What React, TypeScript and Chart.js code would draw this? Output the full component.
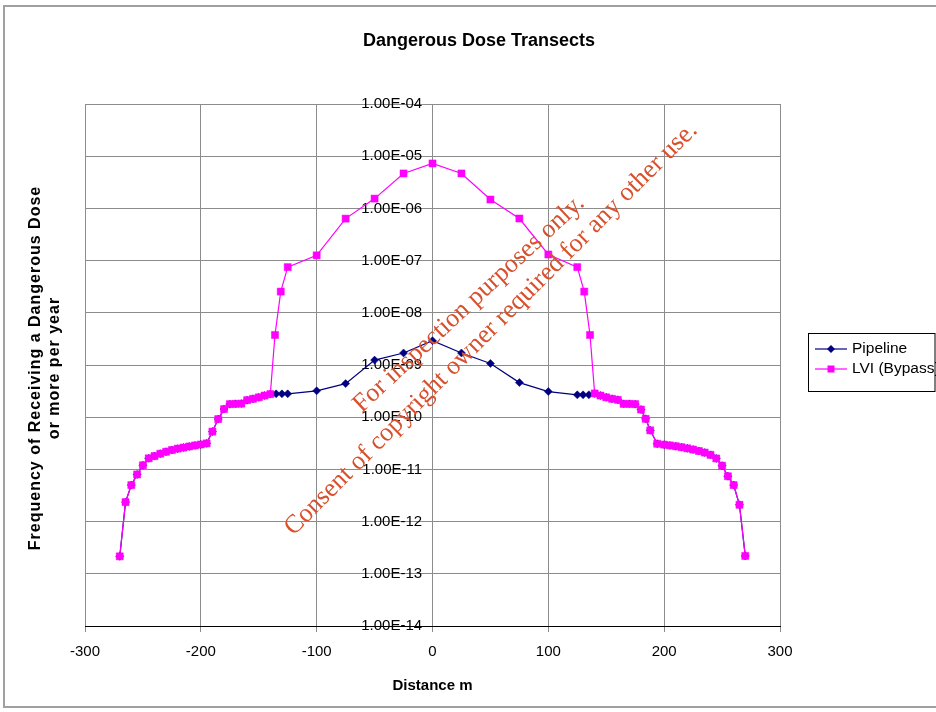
import React, { useEffect, useRef } from "react";
import { Chart, registerables } from "chart.js";

Chart.register(...registerables);

const FONT = "'Liberation Sans', Arial, sans-serif";
const SERIF = "'Liberation Serif', 'Times New Roman', serif";

const chartTitle = "Dangerous Dose Transects";
const xAxisTitle = "Distance m";
const yAxisTitleLines = ["Frequency of Receiving a Dangerous Dose", "or more per year"];
const watermarkLines = [
  "For inspection purposes only.",
  "Consent of copyright owner required for any other use.",
];

const xTickValues = [-300, -200, -100, 0, 100, 200, 300];
const yTickValues = [1e-14, 1e-13, 1e-12, 1e-11, 1e-10, 1e-9, 1e-8, 1e-7, 1e-6, 1e-5, 1e-4];
const yTickLabels = [
  "1.00E-14", "1.00E-13", "1.00E-12", "1.00E-11", "1.00E-10", "1.00E-09",
  "1.00E-08", "1.00E-07", "1.00E-06", "1.00E-05", "1.00E-04",
];

const pipelineLabel = "Pipeline";
const pipelineDistance = [
  -270, -265, -260, -255, -250, -245, -240, -235, -230, -225, -220, -215, -210, -205,
  -200, -195, -190, -185, -180, -175, -170, -165, -160, -155, -150, -145, -140,
  -135, -130, -125, -100, -75, -50, -25, 0, 25, 50, 75, 100, 125, 130, 135,
  140, 145, 150, 155, 160, 165, 170, 175, 180, 184, 188, 194, 200, 205, 210, 215,
  220, 225, 230, 235, 240, 245, 250, 255, 260, 265, 270,
];
const pipelineFrequency = [
  2.16e-13, 2.36e-12, 5.0e-12, 8.0e-12, 1.2e-11, 1.63e-11, 1.8e-11, 2.0e-11, 2.18e-11, 2.35e-11,
  2.5e-11, 2.62e-11, 2.75e-11, 2.88e-11, 3.0e-11, 3.15e-11, 5.3e-11, 9.2e-11, 1.43e-10, 1.78e-10,
  1.8e-10, 1.82e-10, 2.12e-10, 2.25e-10, 2.4e-10, 2.6e-10, 2.77e-10,
  2.8e-10, 2.8e-10, 2.8e-10, 3.2e-10, 4.4e-10, 1.24e-9, 1.7e-9, 2.92e-9, 1.7e-9, 1.07e-9, 4.6e-10,
  3.1e-10, 2.68e-10, 2.68e-10, 2.68e-10,
  2.85e-10, 2.6e-10, 2.4e-10, 2.25e-10, 2.15e-10, 1.8e-10, 1.8e-10, 1.78e-10, 1.4e-10, 9.3e-11,
  5.6e-11, 3.1e-11, 2.98e-11, 2.88e-11, 2.78e-11, 2.66e-11, 2.53e-11, 2.4e-11, 2.25e-11, 2.1e-11,
  1.9e-11, 1.62e-11, 1.18e-11, 7.4e-12, 5.0e-12, 2.1e-12, 2.2e-13,
];

const lviLabel = "LVI (Bypass)";
const lviDistance = [
  -270, -265, -260, -255, -250, -245, -240, -235, -230, -225, -220, -215, -210, -205,
  -200, -195, -190, -185, -180, -175, -170, -165, -160, -155, -150, -145, -140,
  -136, -131, -125, -100, -75, -50, -25, 0, 25, 50, 75, 100, 125, 131, 136,
  140, 145, 150, 155, 160, 165, 170, 175, 180, 184, 188, 194, 200, 205, 210, 215,
  220, 225, 230, 235, 240, 245, 250, 255, 260, 265, 270,
];
const lviFrequency = [
  2.16e-13, 2.36e-12, 5.0e-12, 8.0e-12, 1.2e-11, 1.63e-11, 1.8e-11, 2.0e-11, 2.18e-11, 2.35e-11,
  2.5e-11, 2.62e-11, 2.75e-11, 2.88e-11, 3.0e-11, 3.15e-11, 5.3e-11, 9.2e-11, 1.43e-10, 1.78e-10,
  1.8e-10, 1.82e-10, 2.12e-10, 2.25e-10, 2.4e-10, 2.6e-10, 2.77e-10,
  3.76e-9, 2.55e-8, 7.5e-8, 1.26e-7, 6.37e-7, 1.54e-6, 4.67e-6, 7.26e-6, 4.67e-6, 1.48e-6, 6.4e-7,
  1.31e-7, 7.5e-8, 2.55e-8, 3.76e-9,
  2.85e-10, 2.6e-10, 2.4e-10, 2.25e-10, 2.15e-10, 1.8e-10, 1.8e-10, 1.78e-10, 1.4e-10, 9.3e-11,
  5.6e-11, 3.1e-11, 2.98e-11, 2.88e-11, 2.78e-11, 2.66e-11, 2.53e-11, 2.4e-11, 2.25e-11, 2.1e-11,
  1.9e-11, 1.62e-11, 1.18e-11, 7.4e-12, 5.0e-12, 2.1e-12, 2.2e-13,
];

const PIPE_COLOR = "#000080";
const LVI_COLOR = "#ff00ff";

const decorPlugin = {
  id: "decor",
  beforeDraw(chart: any) {
    const ctx = chart.ctx;
    ctx.save();
    ctx.fillStyle = "#ffffff";
    ctx.fillRect(0, 0, chart.width, chart.height);
    ctx.strokeStyle = "#a0a0a0";
    ctx.lineWidth = 2;
    ctx.strokeRect(4, 6, 960, 701);
    ctx.restore();
  },
  afterDraw(chart: any) {
    const ctx = chart.ctx;
    ctx.save();
    // title
    ctx.fillStyle = "#000";
    ctx.font = `bold 18px ${FONT}`;
    ctx.textAlign = "center";
    ctx.textBaseline = "middle";
    ctx.fillText(chartTitle, 479, 41);

    // y axis title (two lines, rotated)
    ctx.font = `bold 16px ${FONT}`;
    (ctx as any).letterSpacing = "1px";
    const yCenters = [36, 55];
    yAxisTitleLines.forEach((line, i) => {
      ctx.save();
      ctx.translate(yCenters[i], 368);
      ctx.rotate(-Math.PI / 2);
      ctx.fillText(line, 0, 0);
      ctx.restore();
    });
    (ctx as any).letterSpacing = "0px";

    // legend
    const lx = 808.5, ly = 333.5, lw = 126.5, lh = 58;
    ctx.fillStyle = "#fff";
    ctx.fillRect(lx, ly, lw, lh);
    ctx.strokeStyle = "#000";
    ctx.lineWidth = 1;
    ctx.strokeRect(lx, ly, lw, lh);
    const rows = [349, 369];
    chart.data.datasets.forEach((ds: any, i: number) => {
      const y = rows[i];
      ctx.strokeStyle = ds.borderColor;
      ctx.lineWidth = 1.2;
      ctx.beginPath();
      ctx.moveTo(815, y);
      ctx.lineTo(847, y);
      ctx.stroke();
      ctx.fillStyle = ds.backgroundColor;
      ctx.beginPath();
      if (ds.pointStyle === "rectRot") {
        ctx.moveTo(831, y - 4);
        ctx.lineTo(835, y);
        ctx.lineTo(831, y + 4);
        ctx.lineTo(827, y);
        ctx.closePath();
      } else {
        ctx.rect(827.5, y - 3.5, 7, 7);
      }
      ctx.fill();
      ctx.fillStyle = "#000";
      ctx.font = `15.5px ${FONT}`;
      ctx.textAlign = "left";
      ctx.textBaseline = "middle";
      ctx.fillText(ds.label, 852, y);
    });

    // watermark
    ctx.fillStyle = "#d8502c";
    ctx.font = `26px ${SERIF}`;
    ctx.textAlign = "center";
    ctx.textBaseline = "middle";
    const wm = [
      [469, 304, 43],
      [491, 329, 45],
    ];
    watermarkLines.forEach((line, i) => {
      ctx.save();
      ctx.translate(wm[i][0], wm[i][1]);
      ctx.rotate((-wm[i][2] * Math.PI) / 180);
      ctx.fillText(line, 0, 0);
      ctx.restore();
    });
    ctx.restore();
  },
};

export default function App() {
  const ref = useRef<HTMLCanvasElement | null>(null);
  useEffect(() => {
    const canvas = ref.current;
    if (!canvas) return;
    const chart = new Chart(canvas, {
      type: "line",
      data: {
        datasets: [
          {
            label: pipelineLabel,
            data: pipelineDistance.map((x, i) => ({ x, y: pipelineFrequency[i] })),
            borderColor: PIPE_COLOR,
            backgroundColor: PIPE_COLOR,
            pointStyle: "rectRot",
            pointRadius: 4,
            pointBorderWidth: 0.5,
            borderWidth: 1.2,
            tension: 0,
            order: 1,
          },
          {
            label: lviLabel,
            data: lviDistance.map((x, i) => ({ x, y: lviFrequency[i] })),
            borderColor: LVI_COLOR,
            backgroundColor: LVI_COLOR,
            pointStyle: "rect",
            pointRadius: 5,
            pointBorderWidth: 0.5,
            borderWidth: 1.2,
            tension: 0,
            order: 0,
          },
        ],
      } as any,
      options: {
        animation: false,
        responsive: false,
        devicePixelRatio: 1,
        layout: { padding: { left: 85, right: 156, top: 104, bottom: 13 } },
        plugins: {
          legend: { display: false },
          title: { display: false },
          tooltip: { enabled: false },
        },
        scales: {
          x: {
            type: "linear",
            min: -300,
            max: 300,
            afterBuildTicks: (s: any) => {
              s.ticks = xTickValues.map((v) => ({ value: v }));
            },
            ticks: { font: { family: FONT, size: 15 }, color: "#000", padding: 11, maxRotation: 0 },
            grid: { color: "#8c8c8c", tickLength: 6 },
            border: { color: "#000" },
            title: {
              display: true,
              text: xAxisTitle,
              font: { family: FONT, size: 15, weight: "bold" },
              color: "#000",
              padding: { top: 5, bottom: 4 },
            },
          },
          y: {
            type: "logarithmic",
            min: 1e-14,
            max: 1e-4,
            position: { x: -9 },
            afterBuildTicks: (s: any) => {
              s.ticks = yTickValues.map((v) => ({ value: v }));
            },
            ticks: {
              font: { family: FONT, size: 15 },
              color: "#000",
              padding: 4,
              callback: (v: any) => {
                const idx = yTickValues.findIndex((t) => Math.abs(Math.log10(t) - Math.log10(v)) < 1e-6);
                return idx >= 0 ? yTickLabels[idx] : "";
              },
            },
            grid: { color: "#8c8c8c", drawTicks: false },
            border: { display: false },
          },
        },
      } as any,
      plugins: [decorPlugin],
    });
    return () => chart.destroy();
  }, []);

  return (
    <div style={{ position: "absolute", left: 0, top: 0, width: 936, height: 712, overflow: "hidden", background: "#fff" }}>
      <canvas ref={ref} width={936} height={712} style={{ display: "block", width: 936, height: 712 }} />
    </div>
  );
}
